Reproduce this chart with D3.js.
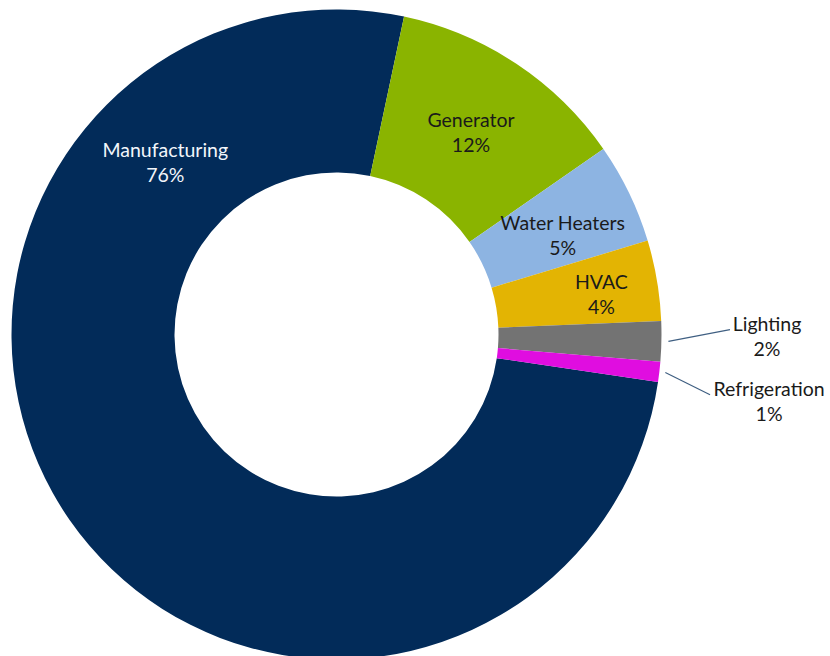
<!DOCTYPE html>
<html>
<head>
<meta charset="utf-8">
<script src="https://cdn.jsdelivr.net/npm/d3@7"></script>
<style>
  html, body { margin: 0; padding: 0; background: #ffffff; }
  svg { display: block; }
  text { font-family: Lato, "Open Sans", "Liberation Sans", sans-serif; font-size: 19.5px; }
</style>
</head>
<body>
<svg id="chart" width="830" height="656"></svg>
<script>
// Energy use by end-use category (percent of total)
const categories = ["Manufacturing", "Generator", "Water Heaters", "HVAC", "Lighting", "Refrigeration"];
const shares = [76, 12, 5, 4, 2, 1];
const colors = ["#022b59", "#8ab400", "#8db4e2", "#e3b403", "#737373", "#e00de0"];

const width = 830, height = 656;
const cx = 336.5, cy = 334.5;
const outerR = 325, innerR = 162;
const deg = Math.PI / 180;

// Label placement: polar anchor (degrees clockwise from 12 o'clock, radius)
// plus whether the label sits outside the ring with a leader line.
const labelLayout = {
  "Manufacturing": { angle: -44.8, r: 243, fill: "#f2f6fb" },
  "Generator":     { angle: 33.6,  r: 243, fill: "#1a1a1a" },
  "Water Heaters": { angle: 66.3,  r: 247, fill: "#1a1a1a" },
  "HVAC":          { angle: 81.3,  r: 268, fill: "#1a1a1a" },
  "Lighting":      { angle: 90.2,  r: 430.5, fill: "#1a1a1a", leader: { r0: 332, end: [-37, -6.3] } },
  "Refrigeration": { angle: 98.8,  r: 437.7, fill: "#1a1a1a", leader: { r0: 331, end: [-59, -6.7] } }
};

const data = categories.map((c, i) => ({ name: c, value: shares[i], color: colors[i] }));

const svg = d3.select("#chart");
const g = svg.append("g").attr("transform", `translate(${cx},${cy})`);

const startAngle = 98.4 * deg;
const pie = d3.pie()
  .value(d => d.value)
  .sort(null)
  .startAngle(startAngle)
  .endAngle(startAngle + 2 * Math.PI);

const arc = d3.arc().innerRadius(innerR).outerRadius(outerR);
const arcs = pie(data);

g.selectAll("path.slice")
  .data(arcs)
  .join("path")
  .attr("class", "slice")
  .attr("d", arc)
  .attr("fill", d => d.data.color);

const polar = (aDeg, r) => [r * Math.sin(aDeg * deg), -r * Math.cos(aDeg * deg)];

// Leader lines for the two small slices
arcs.forEach(a => {
  const L = labelLayout[a.data.name];
  if (!L.leader) return;
  const mid = (a.startAngle + a.endAngle) / 2 / deg;
  const p0 = polar(mid, L.leader.r0);
  const anchor = polar(L.angle, L.r);
  const p1 = [anchor[0] + L.leader.end[0], anchor[1] + L.leader.end[1]];
  g.append("line")
    .attr("x1", p0[0]).attr("y1", p0[1])
    .attr("x2", p1[0]).attr("y2", p1[1])
    .attr("stroke", "#3f5f82")
    .attr("stroke-width", 1.2);
});

// Category name and percentage, two centred lines
const labels = g.selectAll("g.label")
  .data(arcs)
  .join("g")
  .attr("class", "label")
  .attr("transform", d => {
    const L = labelLayout[d.data.name];
    const p = polar(L.angle, L.r);
    return `translate(${p[0]},${p[1]})`;
  });

labels.append("text")
  .attr("text-anchor", "middle")
  .attr("y", -5)
  .attr("fill", d => labelLayout[d.data.name].fill)
  .text(d => d.data.name);

labels.append("text")
  .attr("text-anchor", "middle")
  .attr("y", 20)
  .attr("fill", d => labelLayout[d.data.name].fill)
  .text(d => d3.format(".0f")(d.data.value) + "%");
</script>
</body>
</html>
